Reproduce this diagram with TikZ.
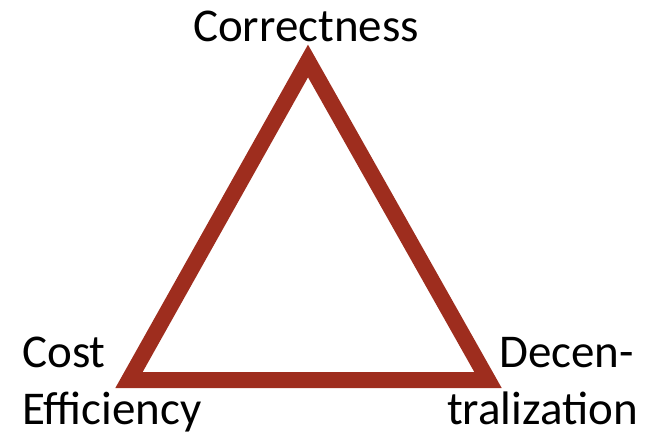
\documentclass[tikz,border=0pt]{standalone}
\usepackage{fontspec}
\setmainfont{Carlito}
\definecolor{tri}{RGB}{158,45,30}
\begin{document}
\begin{tikzpicture}[x=1pt,y=1pt,
  lbl/.style={inner sep=0pt,font=\fontsize{47}{56}\selectfont},
  edge/.style={draw=tri,line width=16pt,line join=miter}]
\useasboundingbox (0,0) rectangle (650,431);
\coordinate (top) at (308,370);
\coordinate (bl) at (129,51);
\coordinate (br) at (488,51);
\draw[edge] (top) -- (bl) -- (br) -- cycle;
\node[lbl,anchor=base] (corr) at (306,389) {Correctness};
\node[lbl,anchor=base west] (cost) at (22,64) {Cost};
\node[lbl,anchor=base west] (eff) at (22,7) {Efficiency};
\node[lbl,anchor=base east] (dec) at (634,64) {Decen-};
\node[lbl,anchor=base east] (tral) at (638,7) {tralization};
\end{tikzpicture}
\end{document}
